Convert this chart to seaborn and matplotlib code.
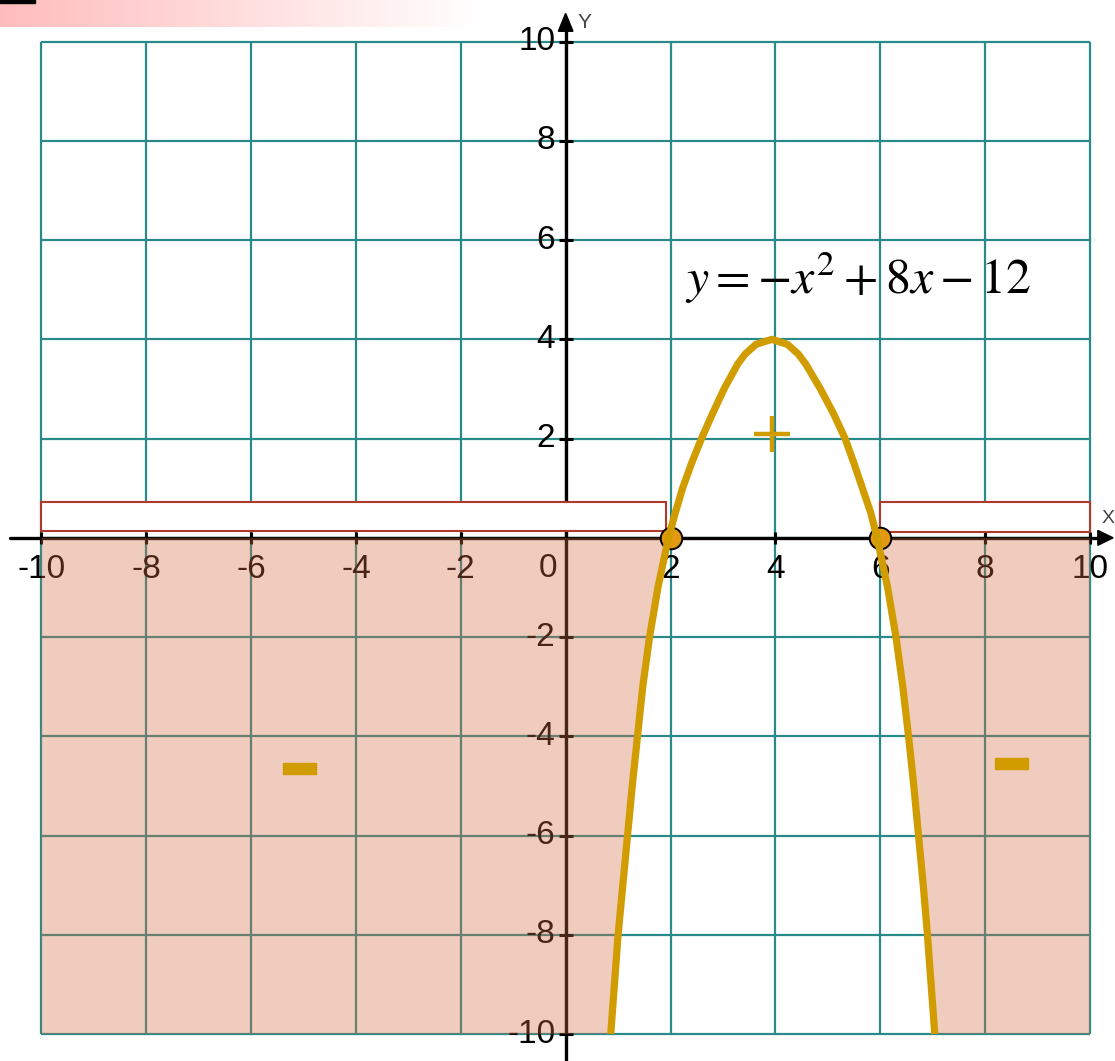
import numpy as np
import matplotlib
matplotlib.use("Agg")
import matplotlib.pyplot as plt
import seaborn as sns
from matplotlib.patches import Rectangle, Polygon

# ---------------- data ----------------
grid_vals = [-10, -8, -6, -4, -2, 0, 2, 4, 6, 8, 10]
x_tick_vals = [-10, -8, -6, -4, -2, 2, 4, 6, 8, 10]
x_tick_labels = ["-10", "-8", "-6", "-4", "-2", "2", "4", "6", "8", "10"]
y_tick_vals = [10, 8, 6, 4, 2, -2, -4, -6, -8, -10]
y_tick_labels = ["10", "8", "6", "4", "2", "-2", "-4", "-6", "-8", "-10"]

# curve points (ordered along the curve)
curve_x = [0.86, 0.93, 1.00, 1.09, 1.18, 1.27, 1.37, 1.47, 1.60, 1.76, 1.96,
           2.09, 2.23, 2.40, 2.59, 2.80, 3.02, 3.28, 3.42, 3.63, 3.93,
           4.23, 4.44, 4.58, 4.86, 5.11, 5.33, 5.50, 5.66, 5.82, 5.94,
           6.14, 6.30, 6.43, 6.54, 6.64, 6.73, 6.82, 6.90, 6.97, 7.04]
curve_y = [-10, -9, -8, -7, -6, -5, -4, -3, -2, -1, 0,
           0.5, 1, 1.5, 2, 2.5, 3, 3.5, 3.7, 3.9, 4.0,
           3.9, 3.7, 3.5, 3, 2.5, 2, 1.5, 1, 0.5, 0,
           -1, -2, -3, -4, -5, -6, -7, -8, -9, -10]

roots = [2, 6]
equation = r"$y=-x^{2}+8x-12$"

# ---------------- style ----------------
sns.set_style("white")
plt.rcParams["font.family"] = ["Liberation Sans", "DejaVu Sans"]
plt.rcParams["mathtext.fontset"] = "stix"

GRID = "#2A8A8A"
CURVE = "#D09C00"
PINK = (212 / 255, 109 / 255, 69 / 255)
BOXEDGE = "#B03A2A"

fig = plt.figure(figsize=(11.15, 10.61), dpi=100)
ax = fig.add_axes([0, 0, 1, 1])
ax.axis("off")
ax.patch.set_visible(False)

XL = (-10.788, 10.477)
YL = (-10.544, 10.84)

# banner gradient at top-left
grad = np.linspace(0, 1, 256)[None, :]
banner = np.ones((1, 256, 3))
banner[..., 1] = 0.74 + 0.26 * grad
banner[..., 2] = 0.74 + 0.26 * grad
ax.imshow(banner, extent=(XL[0], -1.63, 10.296, YL[1]), aspect="auto", zorder=0)
ax.add_patch(Rectangle((XL[0], 10.78), 0.67, 0.07, color="black", zorder=0.5))

# grid
for v in grid_vals:
    ax.plot([v, v], [-10, 10], color=GRID, lw=1.6, zorder=1, solid_capstyle="butt")
    ax.plot([-10, 10], [v, v], color=GRID, lw=1.6, zorder=1, solid_capstyle="butt")

# axes lines
ax.plot([-10.6, 10.2], [0, 0], color="black", lw=2.4, zorder=2)
ax.plot([0, 0], [YL[0], 10.3], color="black", lw=2.4, zorder=2)
ax.add_patch(Polygon([[10.44, 0], [10.15, 0.15], [10.15, -0.15]], closed=True,
                     color="black", zorder=2))
ax.add_patch(Polygon([[0, 10.57], [-0.14, 10.21], [0.14, 10.21]], closed=True,
                     color="black", zorder=2))

# tick marks
ax.plot(x_tick_vals, [0] * len(x_tick_vals), ls="none", marker="|", ms=8,
        mew=2.2, color="black", zorder=2)
ax.plot([0] * len(y_tick_vals), y_tick_vals, ls="none", marker="_", ms=10,
        mew=2.2, color="black", zorder=2)

# tick labels
for v, s in zip(x_tick_vals, x_tick_labels):
    ax.text(v, -0.64, s, ha="center", va="center", fontsize=24, color="black", zorder=2)
ax.text(-0.34, -0.62, "0", ha="center", va="center", fontsize=24, color="black", zorder=2)
for v, s in zip(y_tick_vals, y_tick_labels):
    ax.text(-0.2, v, s, ha="right", va="center", fontsize=24, color="black", zorder=2)

ax.text(0.35, 10.38, "Y", ha="center", va="center", fontsize=15, color="#444444",
        fontweight="light", zorder=2)
ax.text(10.46, 0.38, "X", ha="right", va="center", fontsize=14, color="#444444",
        fontweight="light", zorder=2)

# pink negative regions (semi-transparent overlay)
cx = np.array(curve_x)
cy = np.array(curve_y)
left_mask = (cy <= 0) & (cx < 4)
right_mask = (cy <= 0) & (cx > 4)
left_poly = [[-10, 0]] + sorted([[x, y] for x, y in zip(cx[left_mask], cy[left_mask])],
                                key=lambda p: -p[1]) + [[-10, -10]]
right_poly = sorted([[x, y] for x, y in zip(cx[right_mask], cy[right_mask])],
                    key=lambda p: -p[1]) + [[10, -10], [10, 0]]
for poly in (left_poly, right_poly):
    ax.add_patch(Polygon(poly, closed=True, facecolor=PINK, edgecolor="none",
                         alpha=0.35, zorder=3))

# white boxes with red outline
ax.add_patch(Rectangle((-10.0, 0.13), 11.92, 0.60, facecolor="white",
                       edgecolor=BOXEDGE, lw=1.5, zorder=4))
ax.add_patch(Rectangle((6.0, 0.11), 4.0, 0.61, facecolor="white",
                       edgecolor=BOXEDGE, lw=1.5, zorder=4))

# root markers
ax.plot(roots, [0, 0], ls="none", marker="o", ms=15.5, mfc="#E39A12",
        mec="black", mew=1.4, zorder=5)

# curve
sns.lineplot(x=curve_x, y=curve_y, sort=False, estimator=None, color=CURVE,
             linewidth=5.2, ax=ax, zorder=6, legend=False)
for line in ax.lines[-1:]:
    line.set_solid_capstyle("butt")
    line.set_solid_joinstyle("round")

# sign marks
ax.plot([3.93], [2.1], ls="none", marker="+", ms=26, mew=3.2, color=CURVE, zorder=7)
ax.add_patch(Rectangle((-5.07 - 0.315, -4.64 - 0.11), 0.63, 0.22, color=CURVE, zorder=7))
ax.add_patch(Rectangle((8.50 - 0.315, -4.54 - 0.11), 0.63, 0.22, color=CURVE, zorder=7))

# equation
ax.text(2.28, 4.92, equation, ha="left", va="baseline", fontsize=36, color="black",
        zorder=7)

ax.set_xlim(*XL)
ax.set_ylim(*YL)

fig.savefig("out.png", dpi=100)
